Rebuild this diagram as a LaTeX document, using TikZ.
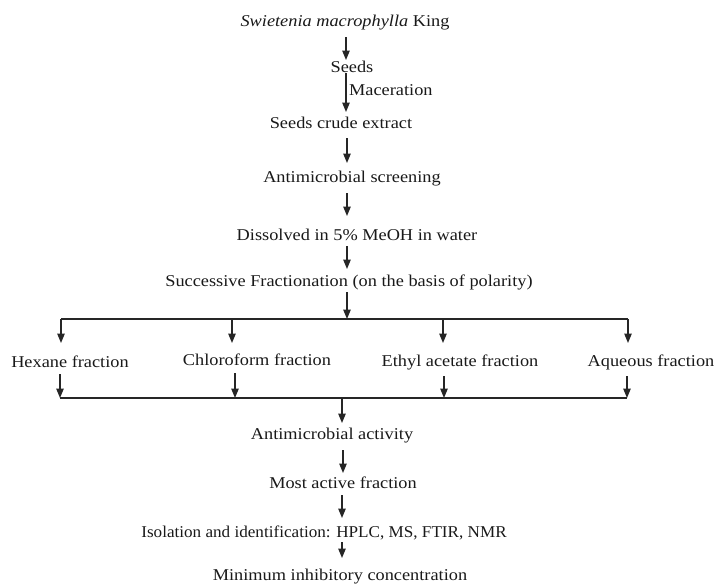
\documentclass[tikz,border=0pt]{standalone}
\usepackage{fontspec}
\usepackage{graphicx}
\setmainfont{Liberation Serif}[FakeStretch=1.11]
\usetikzlibrary{arrows.meta}
\begin{document}
\begin{tikzpicture}[x=1pt,y=-1pt,
  lbl/.style={inner sep=0pt,font=\fontsize{16.5}{18}\selectfont,text=black!90},
  arr/.style={-{Triangle[width=7.5pt,length=9.5pt]},line width=1.2pt,black!85},
  ln/.style={line width=1.2pt,black!85}]
\useasboundingbox (0,0) rectangle (715,584);
\node[lbl] (sw) at (345,23) {\textit{Swietenia macrophylla} King};
\node[lbl] (seeds) at (352,67) {Seeds};
\node[lbl,anchor=west] (mac) at (349,90) {Maceration};
\node[lbl] (crude) at (341,123) {Seeds crude extract};
\node[lbl] (screen) at (352,179) {Antimicrobial screening};
\node[lbl] (diss) at (357,235) {Dissolved in 5\% MeOH in water};
\node[lbl] (succ) at (349,282) {Successive Fractionation (on the basis of polarity)};
\node[lbl] (hex) at (70,362) {Hexane fraction};
\node[lbl] (chl) at (257,360) {Chloroform fraction};
\node[lbl] (eth) at (460,362) {Ethyl acetate fraction};
\node[lbl] (aq) at (651,362) {Aqueous fraction};
\node[lbl] (act) at (332,436) {Antimicrobial activity};
\node[lbl] (most) at (343,483) {Most active fraction};
\node[lbl] (iso) at (324,533) {\scalebox{0.935}[1]{Isolation and identification: HPLC, MS, FTIR, NMR}};
\node[lbl] (mic) at (340,577) {Minimum inhibitory concentration};
\coordinate (top) at (347,319);
\coordinate (bot) at (342,398);
% main chain
\draw[arr] (346,37) -- (346,60);
\draw[arr] (346,73) -- (346,112);
\draw[arr] (347,138) -- (347,163);
\draw[arr] (347,193) -- (347,216);
\draw[arr] (347,246) -- (347,269);
\draw[arr] (347,292) -- (top);
% distribution bar
\draw[ln] (61,319) -- (628,319);
\draw[arr] (61,319) -- (61,343);
\draw[arr] (232,319) -- (232,343);
\draw[arr] (443,319) -- (443,343);
\draw[arr] (628,319) -- (628,343);
% collection bar
\draw[arr] (60,374) -- (60,398);
\draw[arr] (235,373) -- (235,398);
\draw[arr] (444,376) -- (444,398);
\draw[arr] (627,376) -- (627,398);
\draw[ln] (60,398) -- (627,398);
\draw[arr] (bot) -- (342,423);
\draw[arr] (343,450) -- (343,473);
\draw[arr] (342,495) -- (342,518);
\draw[arr] (342,542) -- (342,558);
\end{tikzpicture}
\end{document}
